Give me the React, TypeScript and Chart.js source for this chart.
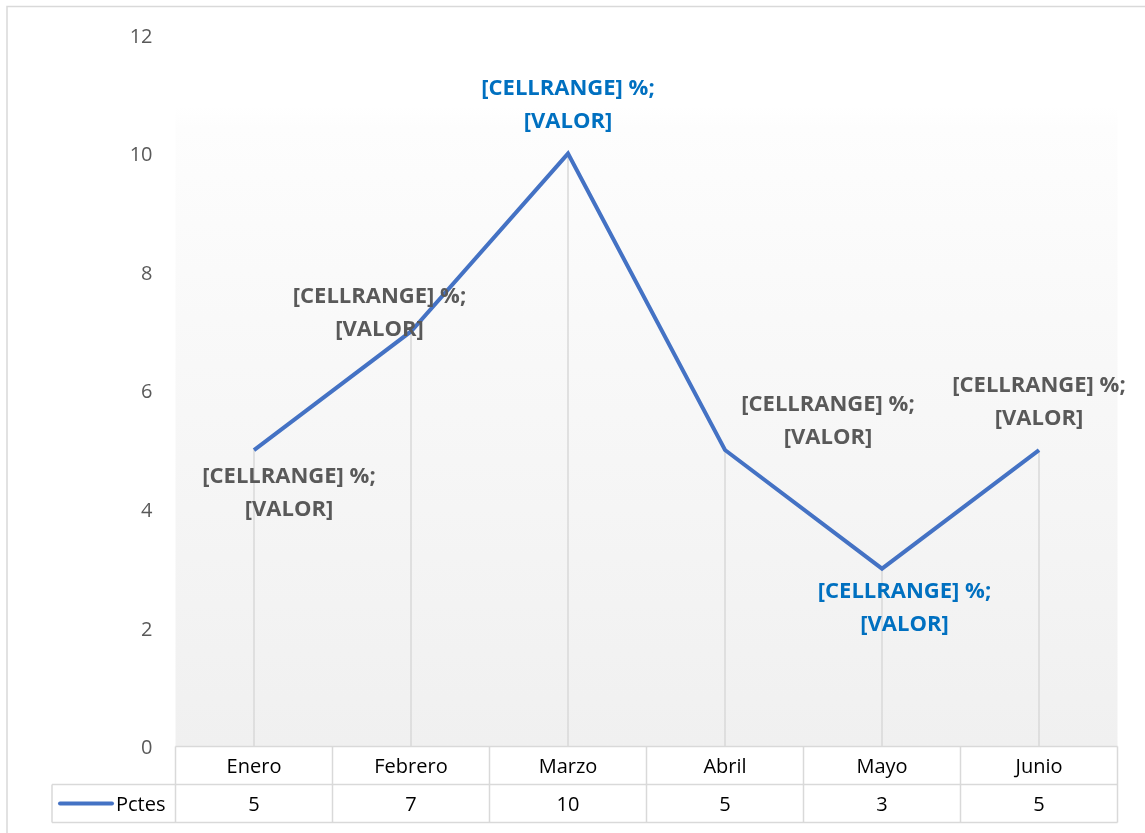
import React, { useEffect, useRef } from "react";
import { Chart, registerables } from "chart.js";

Chart.register(...registerables);

// ---- data ----
const categories = ["Enero", "Febrero", "Marzo", "Abril", "Mayo", "Junio"];
const pctes = [5, 7, 10, 5, 3, 5];
const seriesName = "Pctes";
const labelLines = ["[CELLRANGE] %;", "[VALOR]"];
const yMin = 0;
const yMax = 12;
const yStep = 2;

// ---- layout of the manually placed data labels (px offset of label block centre from point) ----
const labelOffsets = [
  [35, 43.5],
  [-31.5, -18],
  [0, -48],
  [103, -28.5],
  [22.5, 39.5],
  [0, -48],
];

const FONT = "'Open Sans', 'DejaVu Sans', sans-serif";
const LINE_COLOR = "#4472C4";
const GRID = "#d9d9d9";
const GRAY_TEXT = "#595959";
const BLUE_TEXT = "#0070C0";

const excelPlugin = {
  id: "excelLook",
  beforeDraw(chart: any) {
    const { ctx, chartArea, width, height } = chart;
    ctx.save();
    ctx.fillStyle = "#ffffff";
    ctx.fillRect(0, 0, width, height);
    const g = ctx.createLinearGradient(0, chartArea.top, 0, chartArea.bottom);
    g.addColorStop(0, "#ffffff");
    g.addColorStop(0.1, "#ffffff");
    g.addColorStop(0.13, "#fdfdfd");
    g.addColorStop(1, "#f0f0f0");
    ctx.fillStyle = g;
    ctx.fillRect(chartArea.left, chartArea.top, chartArea.right - chartArea.left, chartArea.bottom - chartArea.top);
    // outer chart border
    ctx.strokeStyle = GRID;
    ctx.lineWidth = 1.5;
    ctx.strokeRect(7, 6.5, width + 20, height + 20);
    ctx.restore();
  },
  beforeDatasetsDraw(chart: any) {
    const { ctx, chartArea } = chart;
    const meta = chart.getDatasetMeta(0);
    ctx.save();
    ctx.strokeStyle = GRID;
    ctx.lineWidth = 1.5;
    meta.data.forEach((pt: any) => {
      ctx.beginPath();
      ctx.moveTo(pt.x, pt.y);
      ctx.lineTo(pt.x, chartArea.bottom);
      ctx.stroke();
    });
    ctx.restore();
  },
  afterDatasetsDraw(chart: any) {
    const { ctx, chartArea } = chart;
    const xs = chart.scales.x;
    const meta = chart.getDatasetMeta(0);
    const n = categories.length;
    const cell = (chartArea.right - chartArea.left) / n;
    const top = chartArea.bottom;
    const rowH = 38;
    const mid = top + rowH;
    const bot = mid + rowH;
    const legendLeft = 52;

    ctx.save();
    // data table
    ctx.strokeStyle = GRID;
    ctx.lineWidth = 1.5;
    ctx.beginPath();
    ctx.moveTo(chartArea.left, top);
    ctx.lineTo(chartArea.right, top);
    ctx.moveTo(legendLeft, mid);
    ctx.lineTo(chartArea.right, mid);
    ctx.moveTo(legendLeft, bot);
    ctx.lineTo(chartArea.right, bot);
    ctx.moveTo(legendLeft, mid);
    ctx.lineTo(legendLeft, bot);
    for (let i = 0; i <= n; i++) {
      const x = xs.getPixelForValue(Math.min(i, n - 1)) + (i === n ? cell / 2 : -cell / 2);
      ctx.moveTo(x, top);
      ctx.lineTo(x, bot);
    }
    ctx.stroke();

    // legend key
    const ky = (mid + bot) / 2;
    ctx.strokeStyle = LINE_COLOR;
    ctx.lineWidth = 4;
    ctx.lineCap = "round";
    ctx.beginPath();
    ctx.moveTo(60, ky);
    ctx.lineTo(112, ky);
    ctx.stroke();
    ctx.fillStyle = "#000";
    ctx.font = `20px ${FONT}`;
    ctx.textBaseline = "middle";
    ctx.textAlign = "left";
    ctx.fillText(seriesName, 116, ky + 2);

    // values row
    ctx.textAlign = "center";
    pctes.forEach((v, i) => {
      ctx.fillText(String(v), xs.getPixelForValue(i), ky + 2);
    });

    // data labels
    const maxV = Math.max(...pctes);
    const minV = Math.min(...pctes);
    ctx.font = `bold 22px ${FONT}`;
    const lh = 33;
    meta.data.forEach((pt: any, i: number) => {
      const v = pctes[i];
      ctx.fillStyle = v === maxV || v === minV ? BLUE_TEXT : GRAY_TEXT;
      const cx = pt.x + labelOffsets[i][0];
      const cy = pt.y + labelOffsets[i][1];
      labelLines.forEach((t, k) => {
        ctx.fillText(t, cx, cy + (k - (labelLines.length - 1) / 2) * lh);
      });
    });
    ctx.restore();
  },
};

export default function App() {
  const ref = useRef<HTMLCanvasElement | null>(null);
  useEffect(() => {
    document.body.style.margin = "0";
    if (!ref.current) return;
    const chart = new Chart(ref.current, {
      type: "line",
      data: {
        labels: categories,
        datasets: [
          {
            label: seriesName,
            data: pctes,
            borderColor: LINE_COLOR,
            borderWidth: 4,
            pointRadius: 0,
            tension: 0,
            fill: false,
          },
        ],
      },
      options: {
        animation: false,
        responsive: false,
        devicePixelRatio: 1,
        layout: { padding: { top: 33, right: 27.5, bottom: 0, left: 0 } },
        plugins: { legend: { display: false }, tooltip: { enabled: false } },
        scales: {
          x: {
            type: "category",
            offset: true,
            grid: { display: false, drawTicks: false },
            border: { display: false },
            ticks: { color: "#000", font: { family: FONT, size: 20 }, padding: 9, maxRotation: 0 },
            afterFit: (s: any) => {
              s.height = 86.5;
            },
          },
          y: {
            min: yMin,
            max: yMax,
            ticks: { stepSize: yStep, color: GRAY_TEXT, font: { family: FONT, size: 20 }, padding: 23, labelOffset: 2 },
            grid: { display: false, drawTicks: false },
            border: { display: false },
            afterFit: (s: any) => {
              s.width = 175.5;
            },
          },
        },
      },
      plugins: [excelPlugin],
    });
    return () => chart.destroy();
  }, []);
  return (
    <div style={{ position: "absolute", left: 0, top: 0, width: 1145, height: 833 }}>
      <canvas ref={ref} width={1145} height={833} />
    </div>
  );
}
